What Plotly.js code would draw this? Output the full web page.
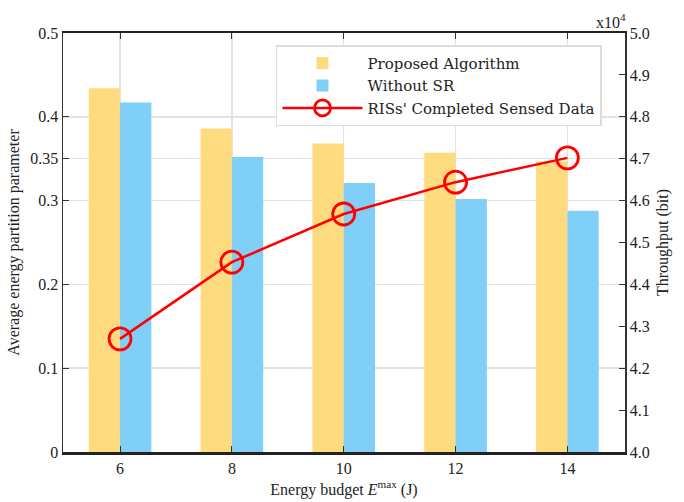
<!DOCTYPE html>
<html>
<head>
<meta charset="utf-8">
<script src="https://cdn.plot.ly/plotly-3.0.1.min.js"></script>
<style>html,body{margin:0;padding:0;background:#fff;}#chart{width:684px;height:502px;}</style>
</head>
<body>
<div id="chart"></div>
<script>
const energyBudget = [6, 8, 10, 12, 14];
const proposedAlgorithm = [0.434, 0.386, 0.368, 0.357, 0.347];
const withoutSR = [0.417, 0.352, 0.321, 0.302, 0.288];
const throughput1e4 = [4.27, 4.453, 4.568, 4.644, 4.702];
const leftTicks = [0, 0.1, 0.2, 0.3, 0.35, 0.4, 0.5];
const rightTicks = [4.0, 4.1, 4.2, 4.3, 4.4, 4.5, 4.6, 4.7, 4.8, 4.9, 5.0];

const serif = "'Liberation Serif', 'Times New Roman', Times, serif";
const traces = [
  {type: 'bar', name: 'Proposed Algorithm', x: energyBudget, y: proposedAlgorithm,
   width: 0.56, offset: -0.56, marker: {color: '#FEDB7F', line: {width: 0}}},
  {type: 'bar', name: 'Without SR', x: energyBudget, y: withoutSR,
   width: 0.56, offset: 0, marker: {color: '#80CFF7', line: {width: 0}}},
  {type: 'scatter', mode: 'lines+markers', name: "RISs' Completed Sensed Data",
   x: energyBudget, y: throughput1e4, yaxis: 'y2',
   line: {color: '#FF0000', width: 2.5},
   marker: {symbol: 'circle-open', size: 22, color: '#FF0000', line: {width: 2.8, color: '#FF0000'}}}
];
const layout = {
  width: 684, height: 502,
  margin: {l: 63, r: 59, t: 33, b: 50},
  paper_bgcolor: '#fff', plot_bgcolor: '#fff',
  barmode: 'overlay',
  showlegend: true,
  legend: {x: 0.379, y: 0.971, xanchor: 'left', yanchor: 'top',
    bgcolor: '#fff', bordercolor: '#DDDDDD', borderwidth: 1.5,
    font: {family: "'DejaVu Serif', serif", size: 15, color: '#222'},
    itemwidth: 80, traceorder: 'normal'},
  xaxis: {range: [4.98, 15.03], tickvals: energyBudget, ticks: 'inside', ticklen: 6, tickcolor: '#333',
    showline: true, linecolor: '#222', linewidth: 2.5, mirror: 'ticks',
    showgrid: true, gridcolor: '#E2E2E2', gridwidth: 1.5, zeroline: false,
    tickfont: {family: serif, size: 16, color: '#222'},
    title: {text: 'Energy budget <i>E</i><sup>max</sup> (J)', font: {family: serif, size: 16, color: '#222'}, standoff: 8}},
  yaxis: {range: [0, 0.5], tickvals: leftTicks, ticks: 'inside', ticklen: 6, tickcolor: '#333',
    showline: true, linecolor: '#333', linewidth: 1.5,
    showgrid: true, gridcolor: '#E2E2E2', gridwidth: 1.5, zeroline: false,
    tickfont: {family: serif, size: 16, color: '#222'},
    title: {text: 'Average energy partition parameter', font: {family: serif, size: 16, color: '#222'}, standoff: 6}},
  yaxis2: {range: [4.0, 5.0], tickvals: rightTicks, tickformat: '.1f', overlaying: 'y', side: 'right',
    ticks: 'inside', ticklen: 6, tickcolor: '#333',
    showline: true, linecolor: '#333', linewidth: 1.5, showgrid: false, zeroline: false,
    tickfont: {family: serif, size: 16, color: '#222'},
    title: {text: 'Throughput (bit)', font: {family: serif, size: 16, color: '#222'}, standoff: 8}},
  annotations: [{xref: 'paper', yref: 'paper', x: 1.005, y: 1.0, xanchor: 'right', yanchor: 'bottom',
    text: 'x10<sup>4</sup>', showarrow: false, font: {family: serif, size: 16, color: '#222'}}]
};
Plotly.newPlot('chart', traces, layout, {displayModeBar: false, staticPlot: true});
</script>
</body>
</html>
